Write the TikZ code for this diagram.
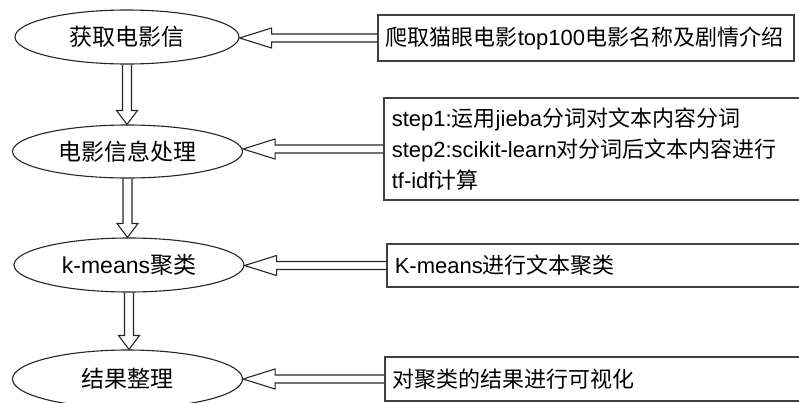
\documentclass[tikz,border=0pt]{standalone}
\usepackage{fontspec}
\setmainfont{Liberation Sans}
\newfontfamily\cjk{Noto Sans CJK SC}
\usetikzlibrary{calc}
\usetikzlibrary{shapes.geometric}
\newcommand\zh[1]{{\cjk #1}}
\def\shafthw{4.5pt}
\def\headhw{10.5pt}

% hollow block arrow going down from one stage to the next
\newcommand\flowdown[2]{%
  \draw[hollowarrow] let \p1=(#1.south), \p2=(#2.north) in
    (\x1-\shafthw,\y1) -- (\x1-\shafthw,\y2+14pt) -- (\x1-\headhw,\y2+14pt)
    -- (\x1,\y2) -- (\x1+\headhw,\y2+14pt) -- (\x1+\shafthw,\y2+14pt)
    -- (\x1+\shafthw,\y1);}
% hollow block arrow from a note box leftwards into its stage
\newcommand\flowleft[2]{%
  \draw[hollowarrow] let \p1=(#1.west), \p2=(#2.east) in
    (\x1,\y1+4pt) -- (\x2+32pt,\y1+4pt) -- (\x2+32pt,\y1+10pt) -- (\x2,\y1)
    -- (\x2+32pt,\y1-10pt) -- (\x2+32pt,\y1-4pt) -- (\x1,\y1-4pt);}

\tikzset{
  stage/.style={draw=black!85, line width=1.1pt, ellipse, inner sep=0pt,
    minimum width=230pt, minimum height=54pt,
    font=\fontsize{23}{27}\selectfont},
  note/.style={draw=black!75, line width=1.6pt, anchor=west, align=left,
    inner xsep=8pt, inner ysep=0pt, font=\fontsize{22}{31}\selectfont},
  hollowarrow/.style={draw=black!85, line width=1.1pt, line join=miter},
}

\begin{document}
\begin{tikzpicture}[x=1pt, y=-1pt]
  \fill[white] (0,0) rectangle (799,402);
  \clip (0,0) rectangle (799,402);

  \node[stage, minimum width=224pt] (fetch) at (127,37) {\zh{获取电影信}};
  \node[stage, minimum height=53pt] (prep) at (127.5,151.5) {\zh{电影信息处理}};
  \node[stage] (cluster) at (129,265) {k-means\zh{聚类}};
  \node[stage, minimum height=58pt] (result) at (127.5,379) {\zh{结果整理}};

  \node[note, minimum height=46pt, text width=400pt] (crawl) at (377,38)
    {\zh{爬取猫眼电影}top100\zh{电影名称及剧情介绍}};
  \node[note, minimum height=102pt, text width=420pt] (segment) at (383,149)
    {step1:\zh{运用}jieba\zh{分词对文本内容分词}\\
     step2:scikit-learn\zh{对分词后文本内容进行}\\
     tf-idf\zh{计算}};
  \node[note, minimum height=43pt, text width=420pt] (kmeans) at (386,265.5)
    {K-means\zh{进行文本聚类}};
  \node[note, minimum height=44pt, text width=420pt] (visual) at (384,379)
    {\zh{对聚类的结果进行可视化}};

  \flowdown{fetch}{prep}
  \flowdown{prep}{cluster}
  \flowdown{cluster}{result}

  \flowleft{crawl}{fetch}
  \flowleft{segment}{prep}
  \flowleft{kmeans}{cluster}
  \flowleft{visual}{result}
\end{tikzpicture}
\end{document}
